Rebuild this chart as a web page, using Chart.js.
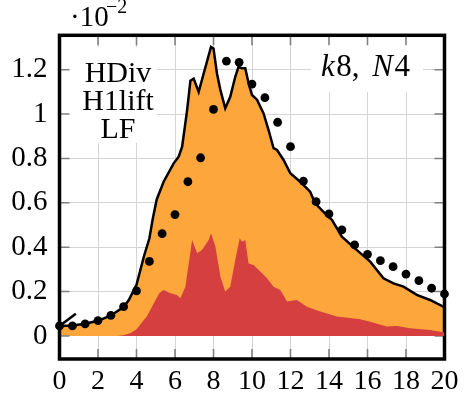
<!DOCTYPE html>
<html>
<head>
<meta charset="utf-8">
<script src="https://cdn.jsdelivr.net/npm/chart.js@4"></script>
<style>
  html, body { margin: 0; padding: 0; background: #fff; }
  #wrap { width: 470px; height: 400px; }
</style>
</head>
<body>
<div id="wrap"><canvas id="myChart"></canvas></div>
<script>
// values are in units of 1e-2 (as the axis shows)
const xTicks = [0, 2, 4, 6, 8, 10, 12, 14, 16, 18, 20];
const yTicks = [0, 0.2, 0.4, 0.6, 0.8, 1, 1.2];

// reference (black dots)
const dotX = [0, 0.67, 1.33, 2, 2.67, 3.33, 4, 4.67, 5.33, 6, 6.67, 7.33, 8, 8.67, 9.33, 10,
              10.67, 11.33, 12, 12.67, 13.33, 14, 14.67, 15.33, 16, 16.67, 17.33, 18, 18.67, 19.33, 20];
const dotY = [0.045, 0.045, 0.054, 0.069, 0.093, 0.132, 0.203, 0.336, 0.461, 0.547, 0.695, 0.803,
              1.021, 1.239, 1.233, 1.135, 1.074, 0.963, 0.853, 0.698, 0.605, 0.550, 0.478, 0.410,
              0.368, 0.339, 0.312, 0.279, 0.249, 0.215, 0.189];

// total (orange area, black outline)
const totX = [0, 0.67, 1.33, 2, 2.67, 3.33, 3.6, 4, 4.38, 4.67, 4.85, 5.05, 5.41, 5.93, 6.19, 6.37, 6.63,
              6.8, 6.97, 7.23, 7.49, 7.87, 8, 8.18, 8.36, 8.61, 8.87, 9.13, 9.3, 9.48, 9.65, 9.82,
              10, 10.26, 10.6, 10.86, 11.12, 11.3, 11.64, 11.99, 12.5, 13.02, 13.28, 13.97, 14.15,
              14.67, 15.45, 16.14, 16.83, 17.35, 17.87, 18.56, 19.25, 19.94, 20];
const totY = [0.045, 0.047, 0.055, 0.068, 0.092, 0.13, 0.162, 0.23, 0.357, 0.44, 0.53, 0.615, 0.695,
              0.778, 0.808, 0.853, 1.018, 1.15, 1.16, 1.10, 1.183, 1.303, 1.296, 1.183, 1.108,
              1.026, 1.078, 1.168, 1.213, 1.206, 1.206, 1.14, 1.086, 1.065, 1.003, 0.928, 0.846,
              0.838, 0.793, 0.733, 0.695, 0.650, 0.598, 0.537, 0.523, 0.447, 0.387, 0.335, 0.26,
              0.237, 0.222, 0.185, 0.162, 0.132, 0.125];

// part (red area)
const partX = [0, 3, 3.3, 3.68, 4, 4.55, 4.9, 5.2, 5.41, 5.76, 6.1, 6.28, 6.54, 6.89, 7.15, 7.4,
               7.75, 7.87, 8.1, 8.36, 8.61, 8.87, 9.13, 9.36, 9.48, 9.65, 9.82, 10.08, 10.43,
               10.78, 11.12, 11.47, 11.82, 12.33, 12.85, 13.55, 14.41, 15.62, 16.14, 17, 17.52,
               18.21, 19.25, 20];
const partY = [0, 0, 0.003, 0.012, 0.03, 0.09, 0.147, 0.195, 0.207, 0.192, 0.185, 0.17, 0.222,
               0.432, 0.373, 0.387, 0.432, 0.463, 0.402, 0.267, 0.2, 0.222, 0.342, 0.44, 0.425,
               0.432, 0.327, 0.32, 0.29, 0.26, 0.222, 0.207, 0.155, 0.162, 0.132, 0.11, 0.087,
               0.075, 0.064, 0.042, 0.045, 0.035, 0.027, 0.015];

// short stroke at the start
const stubX = [0, 0.85];
const stubY = [0.045, 0.10];

const legendLines = ['HDiv', 'H1lift', 'LF'];

const pts = (xs, ys) => xs.map((x, i) => ({x: x, y: ys[i]}));

const FONT = "'Liberation Serif', 'DejaVu Serif', serif";

const decor = {
  id: 'decor',
  beforeDatasetsDraw(chart) {
    const ctx = chart.ctx;
    ctx.save();
    ctx.fillStyle = '#fff';
    ctx.fillRect(62, 47, 95, 96);
    ctx.fillRect(311, 37, 112, 55);
    ctx.restore();
  },
  afterDatasetDraw(chart, args) {
    if (args.index !== 3) return;
    const ctx = chart.ctx;
    const a = chart.chartArea;
    const xs = chart.scales.x, ys = chart.scales.y;
    ctx.save();
    // inner tick marks
    ctx.strokeStyle = '#808080';
    ctx.lineWidth = 1.6;
    ctx.beginPath();
    xTicks.forEach(v => {
      const px = xs.getPixelForValue(v);
      ctx.moveTo(px, a.bottom); ctx.lineTo(px, a.bottom - 10);
      ctx.moveTo(px, a.top); ctx.lineTo(px, a.top + 10);
    });
    yTicks.forEach(v => {
      const py = ys.getPixelForValue(v);
      ctx.moveTo(a.left, py); ctx.lineTo(a.left + 10, py);
      ctx.moveTo(a.right, py); ctx.lineTo(a.right - 10, py);
    });
    ctx.stroke();
    // frame
    ctx.strokeStyle = '#000';
    ctx.lineWidth = 3.5;
    ctx.strokeRect(a.left, a.top, a.right - a.left, a.bottom - a.top);
    ctx.restore();
  },
  afterDraw(chart) {
    const ctx = chart.ctx;
    ctx.save();
    ctx.fillStyle = '#000';
    ctx.textBaseline = 'alphabetic';
    // legend text
    ctx.font = '30px ' + FONT;
    ctx.textAlign = 'center';
    legendLines.forEach((t, i) => ctx.fillText(t, 118, 82 + i * 28));
    // scale factor
    ctx.textAlign = 'left';
    ctx.font = '29px ' + FONT;
    ctx.fillText('\u00b710', 70, 26);
    ctx.font = '20px ' + FONT;
    ctx.fillText('\u22122', 106, 13);
    // k8, N4
    const parts = [['k', 'italic '], ['8, ', ''], ['N', 'italic '], ['4', '']];
    let x = 321;
    parts.forEach(p => {
      ctx.font = p[1] + '31px ' + FONT;
      ctx.fillText(p[0], x, 76);
      x += ctx.measureText(p[0]).width + (p[0] === '8, ' ? 5 : 1.5);
    });
    ctx.restore();
  }
};

const ctx = document.getElementById('myChart');

new Chart(ctx, {
  type: 'scatter',
  data: {
    datasets: [
      {
        label: 'reference',
        data: pts(dotX, dotY),
        pointRadius: 4.4,
        pointBackgroundColor: '#000',
        pointBorderWidth: 0,
        showLine: false,
        clip: false
      },
      {
        label: 'stub',
        data: pts(stubX, stubY),
        showLine: true,
        pointRadius: 0,
        borderColor: '#000',
        borderWidth: 2.5
      },
      {
        label: 'part',
        data: pts(partX, partY),
        showLine: true,
        pointRadius: 0,
        borderWidth: 0,
        borderColor: 'rgba(0,0,0,0)',
        backgroundColor: '#d63f3f',
        fill: 'origin'
      },
      {
        label: 'total',
        data: pts(totX, totY),
        showLine: true,
        pointRadius: 0,
        borderColor: '#000',
        borderWidth: 2.5,
        backgroundColor: '#fca63c',
        fill: 'origin'
      }
    ]
  },
  plugins: [decor],
  options: {
    responsive: true,
    maintainAspectRatio: false,
    animation: false,
    layout: { padding: { top: 35.3, right: 25.5, left: 0, bottom: 0 } },
    plugins: {
      legend: { display: false },
      tooltip: { enabled: false }
    },
    scales: {
      x: {
        type: 'linear',
        min: 0,
        max: 20,
        afterBuildTicks: s => { s.ticks = xTicks.map(v => ({value: v})); },
        afterFit: s => { s.height = 41; },
        grid: { color: '#d4d4d4', lineWidth: 1, drawTicks: false },
        border: { display: false },
        ticks: { color: '#000', padding: 6, maxRotation: 0, font: { family: FONT, size: 28 } }
      },
      y: {
        type: 'linear',
        min: -0.104,
        max: 1.355,
        afterBuildTicks: s => { s.ticks = yTicks.map(v => ({value: v})); },
        afterFit: s => { s.width = 59.5; },
        grid: { color: '#d4d4d4', lineWidth: 1, drawTicks: false },
        border: { display: false },
        ticks: {
          color: '#000',
          padding: 12,
          font: { family: FONT, size: 29 },
          callback: v => String(Number(v.toFixed(1)))
        }
      }
    }
  }
});
</script>
</body>
</html>
